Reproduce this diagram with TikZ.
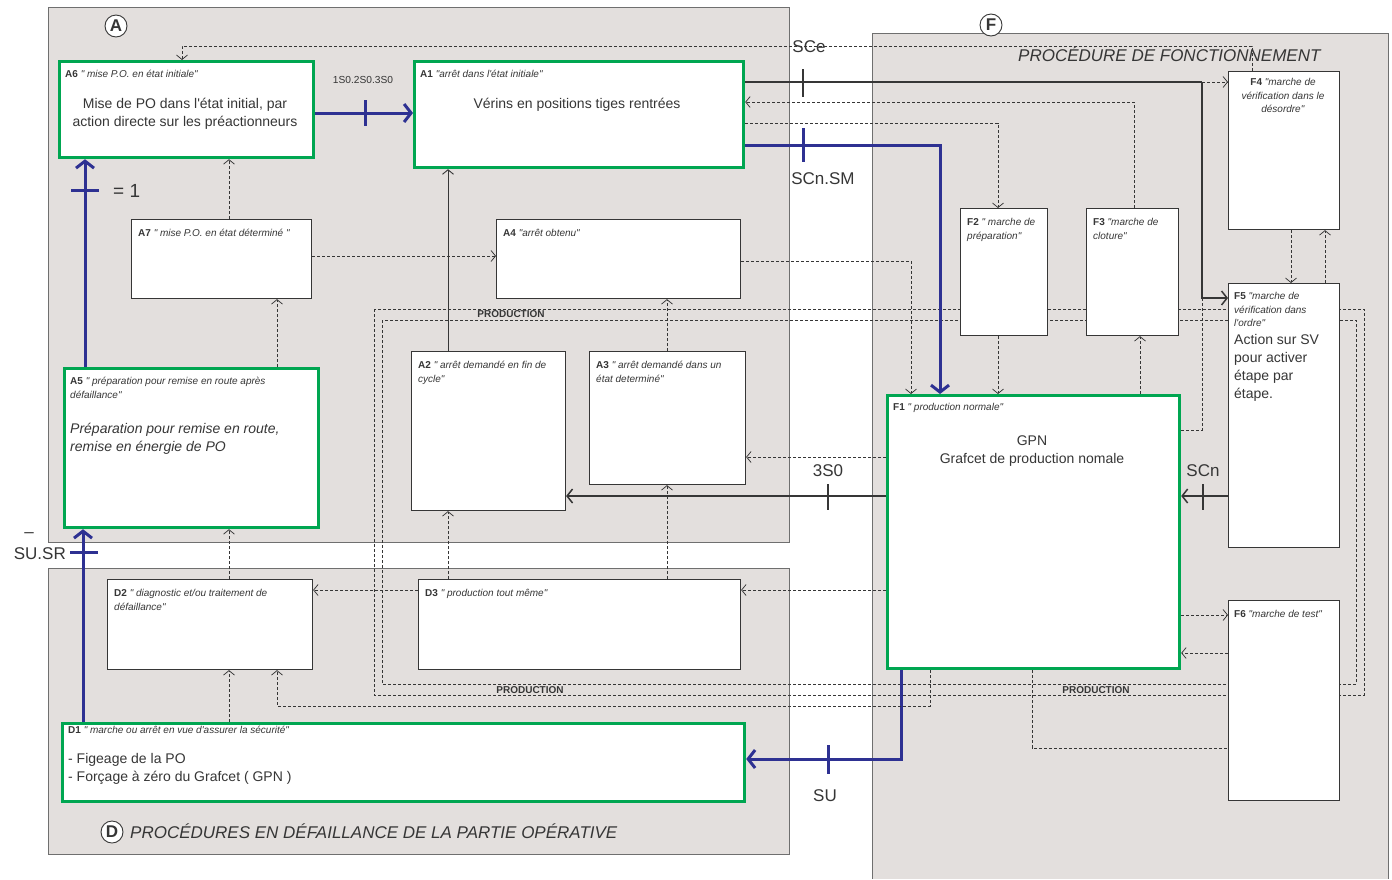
\documentclass[tikz,border=0pt]{standalone}
\usepackage{fontspec}
\setmainfont{Liberation Sans}[Ligatures=TeXOff]
\usetikzlibrary{arrows.meta}
\definecolor{panel}{HTML}{E3DFDD}
\definecolor{pborder}{HTML}{6F6F6F}
\definecolor{grn}{HTML}{00A651}
\definecolor{nav}{HTML}{2E3192}
\definecolor{ink}{HTML}{363636}
\pgfdeclarelayer{bg}
\pgfsetlayers{bg,main}
\tikzset{
  box/.style={draw=ink, line width=1.1pt, fill=white, rectangle, inner sep=0pt, anchor=north west},
  gbox/.style={draw=grn, line width=3.2pt, fill=white, rectangle, inner sep=0pt, anchor=north west},
  lab/.style={font=\fontsize{10}{13.5}\selectfont, text=ink, anchor=base west, inner sep=0pt, align=left},
  labc/.style={lab, anchor=base, align=center},
  body/.style={font=\fontsize{14}{18}\selectfont, text=ink, inner sep=0pt, anchor=base, align=center},
  bodyl/.style={body, anchor=base west, align=left},
  sig/.style={font=\fontsize{17}{18}\selectfont, text=ink, inner sep=0pt, anchor=base},
  dl/.style={draw=ink, line width=0.75pt, dash pattern=on 3pt off 2pt},
  dsh/.style={dl, -{Straight Barb[length=4.5pt,width=11pt]}},
  sol/.style={draw=ink, line width=1.5pt, -{Straight Barb[length=5.5pt,width=14pt]}},
  thinsol/.style={draw=ink, line width=0.9pt, -{Straight Barb[length=4.5pt,width=11pt]}},
  blu/.style={draw=nav, line width=3pt, -{Straight Barb[length=7pt,width=18pt]}},
  tick/.style={draw=nav, line width=3pt},
  gtick/.style={draw=ink, line width=1.5pt},
  prod/.style={font=\bfseries\fontsize{10}{10}\selectfont, text=ink, inner sep=0pt},
  circ/.style={circle, draw=ink, line width=0.9pt, fill=white, minimum size=22pt, inner sep=0pt, font=\bfseries\fontsize{17}{17}\selectfont, text=ink},
  ttl/.style={font=\itshape\fontsize{17}{18}\selectfont, text=ink, inner sep=0pt}
}
\begin{document}
\begin{tikzpicture}[x=1pt,y=-1pt]
\useasboundingbox (0,0) rectangle (1392,879);
\begin{pgfonlayer}{bg}
  \fill[white] (0,0) rectangle (1392,879);
  % panels
  \draw[pborder, line width=1pt, fill=panel] (48,7) rectangle (789,542);
  \draw[pborder, line width=1pt, fill=panel] (48,568) rectangle (789,854);
  \fill[panel] (872,33) rectangle (1388,879);
  \draw[pborder, line width=1pt] (872,879) -- (872,33) -- (1388,33) -- (1388,879);
  % production loops
  \draw[dl] (374,309) rectangle (1364,695);
  \draw[dl] (382,320) rectangle (1356,684);
  \node[prod] (p1) at (511,314) {PRODUCTION};
  \node[prod] (p2) at (530,690) {PRODUCTION};
  \node[prod] (p3) at (1096,690) {PRODUCTION};
\end{pgfonlayer}

% circles and titles
\node[circ] (cA) at (116,26) {A};
\node[circ] (cF) at (991,25) {F};
\node[circ] (cD) at (112,832) {D};
\node[ttl, anchor=base west] (tF) at (1018,61) {PROCÉDURE DE FONCTIONNEMENT};
\node[ttl, anchor=base west] (tD) at (130,838) {PROCÉDURES EN DÉFAILLANCE DE LA PARTIE OPÉRATIVE};

% boxes
\node[gbox, minimum width=254pt, minimum height=96pt] (A6) at (58,60) {};
\node[gbox, minimum width=329pt, minimum height=106pt] (A1) at (413,60) {};
\node[box, minimum width=180pt, minimum height=79pt] (A7) at (131,219) {};
\node[box, minimum width=244pt, minimum height=79pt] (A4) at (496,219) {};
\node[gbox, minimum width=254pt, minimum height=159pt] (A5) at (63,367) {};
\node[box, minimum width=154pt, minimum height=159pt] (A2) at (411,351) {};
\node[box, minimum width=156pt, minimum height=133pt] (A3) at (589,351) {};
\node[box, minimum width=205pt, minimum height=90pt] (D2) at (107,579) {};
\node[box, minimum width=322pt, minimum height=90pt] (D3) at (418,579) {};
\node[gbox, minimum width=682pt, minimum height=78pt] (D1) at (61,722) {};
\node[gbox, minimum width=292pt, minimum height=273pt] (F1) at (886,394) {};
\node[box, minimum width=87pt, minimum height=127pt] (F2) at (960,208) {};
\node[box, minimum width=92pt, minimum height=127pt] (F3) at (1086,208) {};
\node[box, minimum width=111pt, minimum height=158pt] (F4) at (1228,71) {};
\node[box, minimum width=111pt, minimum height=264pt] (F5) at (1228,283) {};
\node[box, minimum width=111pt, minimum height=200pt] (F6) at (1228,600) {};

% box texts (multi-line nodes: base = baseline of last line)
\node[lab] (A6l) at (65,77.6) {\textbf{A6} \textit{" mise P.O. en état initiale"}};
\node[body] (A6b) at (185,126) {Mise de PO dans l'état initial, par\\action directe sur les préactionneurs};
\node[lab] (A1l) at (420,77.6) {\textbf{A1} \textit{"arrêt dans l'état initiale"}};
\node[body] (A1b) at (577,108) {Vérins en positions tiges rentrées};
\node[lab] (A7l) at (138,236.6) {\textbf{A7} \textit{" mise P.O. en état déterminé "}};
\node[lab] (A4l) at (503,236.6) {\textbf{A4} \textit{"arrêt obtenu"}};
\node[lab] (A5l) at (70,398) {\textbf{A5} \textit{" préparation pour remise en route après}\\\textit{défaillance"}};
\node[bodyl] (A5b) at (70,451) {\textit{Préparation pour remise en route,}\\\textit{remise en énergie de PO}};
\node[lab] (A2l) at (418,382) {\textbf{A2} \textit{" arrêt demandé en fin de}\\\textit{cycle"}};
\node[lab] (A3l) at (596,382) {\textbf{A3} \textit{" arrêt demandé dans un}\\\textit{état determiné"}};
\node[lab] (D2l) at (114,610) {\textbf{D2} \textit{" diagnostic et/ou traitement de}\\\textit{défaillance"}};
\node[lab] (D3l) at (425,596.6) {\textbf{D3} \textit{" production tout même"}};
\node[lab] (D1l) at (68,733.6) {\textbf{D1} \textit{" marche ou arrêt en vue d'assurer la sécurité"}};
\node[bodyl] (D1b) at (68,781) {- Figeage de la PO\\- Forçage à zéro du Grafcet ( GPN )};
\node[lab] (F1l) at (893,410.6) {\textbf{F1} \textit{" production normale"}};
\node[body] (F1b) at (1032,463) {GPN\\Grafcet de production nomale};
\node[lab] (F2l) at (967,239) {\textbf{F2} \textit{" marche de}\\\textit{préparation"}};
\node[lab] (F3l) at (1093,239) {\textbf{F3} \textit{"marche de}\\\textit{cloture"}};
\node[labc] (F4l) at (1283,112.6) {\textbf{F4} \textit{"marche de}\\\textit{vérification dans le}\\\textit{désordre"}};
\node[lab] (F5l) at (1234,326.6) {\textbf{F5} \textit{"marche de}\\\textit{vérification dans}\\\textit{l'ordre"}};
\node[bodyl] (F5b) at (1234,398) {Action sur SV\\pour activer\\étape par\\étape.};
\node[lab] (F6l) at (1234,617.6) {\textbf{F6} \textit{"marche de test"}};

% junction coordinates
\coordinate (j1) at (1202,82);
\coordinate (j2) at (1202,298);

% blue connectors
\draw[blu] (A6.east |- 0,113) -- (A1.west |- 0,113);
\draw[tick] (365,100) -- (365,126);
\node[font=\fontsize{10.2}{11}\selectfont, text=ink, inner sep=0pt] (t1) at (363,80) {1S0.2S0.3S0};
\draw[blu] (A5.north -| 85,0) -- (A6.south -| 85,0);
\draw[tick] (71,190) -- (99,190);
\node[font=\fontsize{19}{20}\selectfont, text=ink, inner sep=0pt, anchor=base west] (t2) at (113,197) {= 1};
\draw[blu] (D1.north -| 83,0) -- (A5.south -| 83,0);
\draw[tick] (70,552) -- (98,552);
\node[sig, anchor=base east] (t3) at (66,559) {SU.SR};
\node[sig] (t3b) at (29,537) {–};
\draw[blu] (A1.east |- 0,145) -| (F1.north -| 940,0);
\draw[tick] (803,128) -- (803,162);
\node[sig] (t4) at (823,184) {SCn.SM};
\draw[blu] (F1.south -| 901,0) |- (D1.east |- 0,759);
\draw[tick] (828,745) -- (828,774);
\node[sig] (t5) at (825,801) {SU};

% solid gray connectors
\draw[sol, -] (A1.east |- j1) -- (j1);
\draw[sol] (j1) |- (F5.west |- j2);
\draw[gtick] (803,69) -- (803,97);
\node[sig] (t6) at (809,52) {SCe};
\draw[thinsol] (A2.north -| 448,0) -- (A1.south -| 448,0);
\draw[sol] (F1.west |- 0,496) -- (A2.east |- 0,496);
\draw[gtick] (828,484) -- (828,510);
\node[sig] (t7) at (828,476) {3S0};
\draw[sol] (F5.west |- 0,496) -- (F1.east |- 0,496);
\draw[gtick] (1203,484) -- (1203,510);
\node[sig] (t8) at (1203,476) {SCn};

% dashed connectors
\draw[dsh] (j1) -- (F4.west |- j1);
\draw[dsh] (F4.north -| 1252,0) |- (182,46) -- (A6.north -| 182,0);
\draw[dsh] (F3.north -| 1134,0) |- (A1.east |- 0,102);
\draw[dsh] (A1.east |- 0,123) -| (F2.north -| 998,0);
\draw[dsh] (A7.east |- 0,256) -- (A4.west |- 0,256);
\draw[dsh] (A7.north -| 229,0) -- (A6.south -| 229,0);
\draw[dsh] (A5.north -| 277,0) -- (A7.south -| 277,0);
\draw[dsh] (A4.east |- 0,261) -| (F1.north -| 911,0);
\draw[dsh] (A3.north -| 667,0) -- (A4.south -| 667,0);
\draw[dsh] (F1.west |- 0,457) -- (A3.east |- 0,457);
\draw[dsh] (F2.south -| 998,0) -- (F1.north -| 998,0);
\draw[dsh] (F1.north -| 1140,0) -- (F3.south -| 1140,0);
\draw[dsh] (F4.south -| 1291,0) -- (F5.north -| 1291,0);
\draw[dsh] (F5.north -| 1325,0) -- (F4.south -| 1325,0);
\draw[dsh] (F1.east |- 0,615) -- (F6.west |- 0,615);
\draw[dsh] (F6.west |- 0,653) -- (F1.east |- 0,653);
\draw[dl] (F1.east |- 0,430) -| (j2);
\draw[dl] (F1.south -| 1032,0) |- (F6.west |- 0,748);
\draw[dsh] (D1.north -| 229,0) -- (D2.south -| 229,0);
\draw[dsh] (D2.north -| 229,0) -- (A5.south -| 229,0);
\draw[dsh] (D3.west |- 0,590) -- (D2.east |- 0,590);
\draw[dsh] (D3.north -| 448,0) -- (A2.south -| 448,0);
\draw[dsh] (D3.north -| 667,0) -- (A3.south -| 667,0);
\draw[dsh] (F1.west |- 0,590) -- (D3.east |- 0,590);
\draw[dsh] (F1.south -| 930,0) |- (277,706) -- (D2.south -| 277,0);
\end{tikzpicture}
\end{document}
